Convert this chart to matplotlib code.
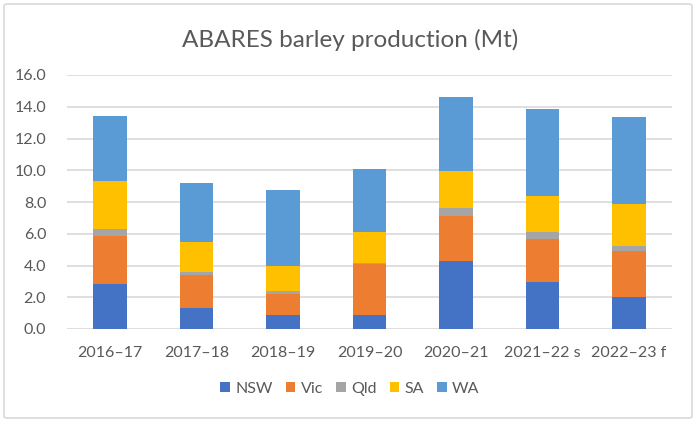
import matplotlib
matplotlib.use("Agg")
import matplotlib.pyplot as plt
from matplotlib.patches import FancyBboxPatch
import numpy as np

# --- datos (Mt) ---
temporadas = ["2016–17", "2017–18", "2018–19", "2019–20", "2020–21", "2021–22 s", "2022–23 f"]
nsw = [2.81, 1.34, 0.88, 0.88, 4.28, 2.98, 2.01]
vic = [3.06, 2.06, 1.34, 3.19, 2.85, 2.68, 2.90]
qld = [0.46, 0.16, 0.15, 0.08, 0.50, 0.46, 0.33]
sa = [3.00, 1.93, 1.61, 1.97, 2.31, 2.27, 2.64]
wa = [4.07, 3.69, 4.78, 3.94, 4.65, 5.45, 5.45]

estados = ["NSW", "Vic", "Qld", "SA", "WA"]
series = [nsw, vic, qld, sa, wa]
colores = ["#4472C4", "#ED7D31", "#A5A5A5", "#FFC000", "#5B9BD5"]
gris_texto = "#595959"

plt.rcParams['font.family'] = ['Lato', 'DejaVu Sans']

fig = plt.figure(figsize=(7, 4.24), dpi=100)
ax = fig.add_axes([67 / 700, 1 - 329 / 424, (672 - 67) / 700, (329 - 75) / 424])

x = np.arange(len(temporadas))
base = np.zeros(len(temporadas))
for nombre, valores, color in zip(estados, series, colores):
    ax.bar(x, valores, bottom=base, width=0.39, color=color, label=nombre, zorder=3)
    base += np.array(valores)

ax.set_ylim(0, 16)
ax.set_xlim(-0.5, len(temporadas) - 0.5)
ax.set_yticks(np.arange(0, 17, 2))
ax.set_yticklabels([f"{v:.1f}" for v in np.arange(0, 17, 2)])
ax.set_xticks(x)
ax.set_xticklabels(temporadas)
ax.tick_params(length=0, labelsize=11.5, colors=gris_texto)
ax.tick_params(axis='y', pad=15)
ax.tick_params(axis='x', pad=12)
ax.grid(axis='y', color="#D9D9D9", linewidth=1.2, zorder=0)
for s in ax.spines.values():
    s.set_visible(False)

fig.text(0.5, 1 - 40 / 424, "ABARES barley production (Mt)", ha='center', va='center',
         fontsize=17.5, color=gris_texto)

fig.legend(loc='center', bbox_to_anchor=(0.5, 1 - 389 / 424), ncol=5, frameon=False,
           fontsize=11.5, labelcolor=gris_texto, handlelength=0.6, handleheight=0.6,
           handletextpad=0.35, columnspacing=0.8)

# marco del gráfico
marco = FancyBboxPatch((4 / 700, 6 / 424), 688 / 700, 414 / 424,
                       boxstyle="round,pad=0,rounding_size=0.005",
                       transform=fig.transFigure, fill=False,
                       edgecolor="#D9D9D9", linewidth=1.2)
fig.patches.append(marco)

fig.savefig("out.png", dpi=100)
